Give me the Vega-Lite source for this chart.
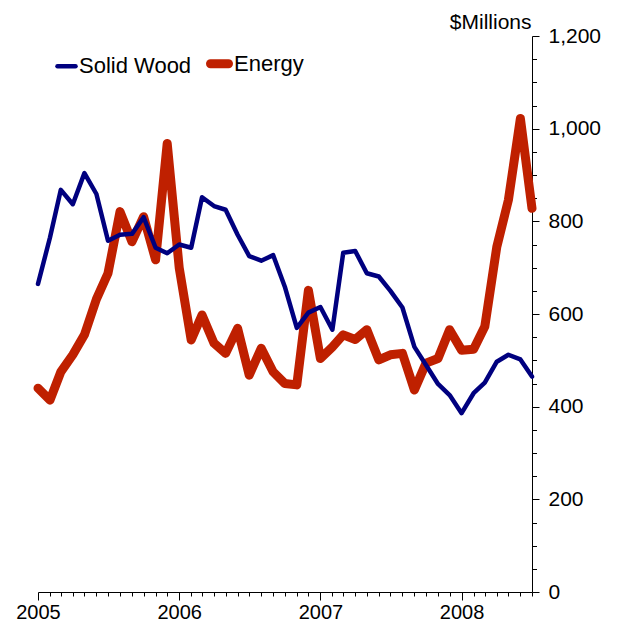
{
  "$schema": "https://vega.github.io/schema/vega-lite/v6.json",
  "autosize": "none",
  "width": 494,
  "height": 556,
  "padding": {"left": 38, "top": 36, "right": 88, "bottom": 33},
  "background": "white",
  "config": {
    "view": {"stroke": null},
    "font": "Liberation Sans",
    "axis": {"domainColor": "black", "tickColor": "black", "labelColor": "black", "titleColor": "black", "grid": false, "labelFont": "Liberation Sans", "titleFont": "Liberation Sans"},
    "legend": {"labelFont": "Liberation Sans"}
  },
  "data": {
    "values": [
      {"date": "2005-01-01", "Solid Wood": 665, "Energy": 440},
      {"date": "2005-02-01", "Solid Wood": 765, "Energy": 414},
      {"date": "2005-03-01", "Solid Wood": 868, "Energy": 475},
      {"date": "2005-04-01", "Solid Wood": 837, "Energy": 512},
      {"date": "2005-05-01", "Solid Wood": 904, "Energy": 555},
      {"date": "2005-06-01", "Solid Wood": 859, "Energy": 632},
      {"date": "2005-07-01", "Solid Wood": 758, "Energy": 688},
      {"date": "2005-08-01", "Solid Wood": 771, "Energy": 821},
      {"date": "2005-09-01", "Solid Wood": 773, "Energy": 756},
      {"date": "2005-10-01", "Solid Wood": 809, "Energy": 810},
      {"date": "2005-11-01", "Solid Wood": 743, "Energy": 717},
      {"date": "2005-12-01", "Solid Wood": 731, "Energy": 968},
      {"date": "2006-01-01", "Solid Wood": 750, "Energy": 700},
      {"date": "2006-02-01", "Solid Wood": 743, "Energy": 544},
      {"date": "2006-03-01", "Solid Wood": 852, "Energy": 598},
      {"date": "2006-04-01", "Solid Wood": 833, "Energy": 537},
      {"date": "2006-05-01", "Solid Wood": 825, "Energy": 515},
      {"date": "2006-06-01", "Solid Wood": 771, "Energy": 569},
      {"date": "2006-07-01", "Solid Wood": 725, "Energy": 468},
      {"date": "2006-08-01", "Solid Wood": 715, "Energy": 526},
      {"date": "2006-09-01", "Solid Wood": 727, "Energy": 475},
      {"date": "2006-10-01", "Solid Wood": 659, "Energy": 450},
      {"date": "2006-11-01", "Solid Wood": 570, "Energy": 447},
      {"date": "2006-12-01", "Solid Wood": 603, "Energy": 651},
      {"date": "2007-01-01", "Solid Wood": 615, "Energy": 504},
      {"date": "2007-02-01", "Solid Wood": 566, "Energy": 529},
      {"date": "2007-03-01", "Solid Wood": 732, "Energy": 555},
      {"date": "2007-04-01", "Solid Wood": 736, "Energy": 545},
      {"date": "2007-05-01", "Solid Wood": 688, "Energy": 566},
      {"date": "2007-06-01", "Solid Wood": 681, "Energy": 501},
      {"date": "2007-07-01", "Solid Wood": 650, "Energy": 512},
      {"date": "2007-08-01", "Solid Wood": 614, "Energy": 515},
      {"date": "2007-09-01", "Solid Wood": 529, "Energy": 436},
      {"date": "2007-10-01", "Solid Wood": 490, "Energy": 494},
      {"date": "2007-11-01", "Solid Wood": 449, "Energy": 504},
      {"date": "2007-12-01", "Solid Wood": 425, "Energy": 566},
      {"date": "2008-01-01", "Solid Wood": 386, "Energy": 522},
      {"date": "2008-02-01", "Solid Wood": 429, "Energy": 524},
      {"date": "2008-03-01", "Solid Wood": 452, "Energy": 573},
      {"date": "2008-04-01", "Solid Wood": 497, "Energy": 745},
      {"date": "2008-05-01", "Solid Wood": 512, "Energy": 846},
      {"date": "2008-06-01", "Solid Wood": 502, "Energy": 1022},
      {"date": "2008-07-01", "Solid Wood": 465, "Energy": 828}
    ]
  },
  "transform": [{"fold": ["Energy", "Solid Wood"], "as": ["series", "value"]}],
  "mark": {"type": "line", "strokeCap": "round", "strokeJoin": "round"},
  "encoding": {
    "x": {
      "field": "date",
      "type": "temporal",
      "scale": {"type": "utc", "domain": [{"year": 2005, "month": 1, "date": 1, "utc": true}, {"year": 2008, "month": 7, "date": 1, "utc": true}], "nice": false},
      "axis": {
        "title": null,
        "orient": "bottom",
        "tickCount": {"interval": "month", "step": 1},
        "labelExpr": "utcmonth(datum.value) == 0 ? utcFormat(datum.value, '%Y') : ''",
        "tickSize": {"condition": {"test": "utcmonth(datum.value) == 0", "value": 8}, "value": 4},
        "labelFontSize": 20,
        "labelPadding": 2,
        "labelFlush": false,
        "labelOverlap": false
      }
    },
    "y": {
      "field": "value",
      "type": "quantitative",
      "scale": {"domain": [0, 1200], "nice": false},
      "axis": {
        "orient": "right",
        "title": "$Millions",
        "titleAngle": 0,
        "titleAlign": "right",
        "titleBaseline": "alphabetic",
        "titleX": -1,
        "titleY": -8,
        "titleFontSize": 21,
        "titleFontWeight": "normal",
        "values": [0, 50, 100, 150, 200, 250, 300, 350, 400, 450, 500, 550, 600, 650, 700, 750, 800, 850, 900, 950, 1000, 1050, 1100, 1150, 1200],
        "labelExpr": "datum.value % 200 == 0 ? format(datum.value, ',') : ''",
        "tickSize": {"condition": {"test": "datum.value % 200 == 0", "value": 7}, "value": 4.5},
        "labelFontSize": 21,
        "labelPadding": 9,
        "labelOverlap": false,
        "labelFlush": false
      }
    },
    "color": {
      "field": "series",
      "type": "nominal",
      "scale": {"domain": ["Solid Wood", "Energy"], "range": ["#00007F", "#BF2000"]},
      "legend": {
        "title": null,
        "orient": "none",
        "legendX": 17,
        "legendY": 14,
        "direction": "horizontal",
        "symbolType": "stroke",
        "symbolSize": 324,
        "labelFontSize": 22,
        "labelOffset": 1,
        "columnPadding": 0,
        "padding": 0,
        "labelColor": "black",
        "encode": {"symbols": {"update": {"strokeCap": {"value": "round"}}}}
      }
    },
    "strokeWidth": {
      "field": "series",
      "type": "nominal",
      "scale": {"domain": ["Solid Wood", "Energy"], "range": [4.5, 9]},
      "legend": {
        "title": null,
        "orient": "none",
        "legendX": 17,
        "legendY": 14,
        "direction": "horizontal",
        "symbolType": "stroke",
        "symbolSize": 324,
        "labelFontSize": 22,
        "labelOffset": 1,
        "columnPadding": 0,
        "padding": 0,
        "labelColor": "black",
        "encode": {"symbols": {"update": {"strokeCap": {"value": "round"}}}}
      }
    }
  }
}
